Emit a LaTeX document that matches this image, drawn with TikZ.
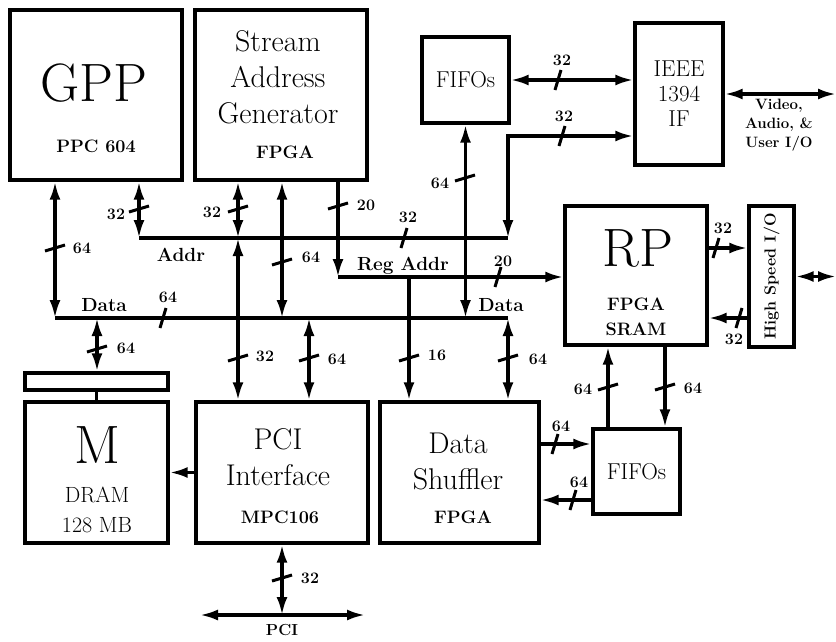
\documentclass[tikz,border=0pt]{standalone}
\usepackage{fontspec}
\usepackage{tikz}
\usetikzlibrary{arrows.meta}

\begin{document}
\begin{tikzpicture}[
        x=1pt, y=-1pt,
        >={Latex[length=18pt, width=11pt]},
        blk/.style={draw, line width=3.4pt, inner sep=0pt},
        bus/.style={line width=3.2pt},
        slash/.style={line width=3pt},
        big/.style={font=\fontsize{54}{54}\selectfont, inner sep=0pt},
        ttl/.style={font=\fontsize{30}{36}\selectfont, align=center, inner sep=0pt},
        sub/.style={font=\fontsize{18}{25}\selectfont\bfseries, align=center, inner sep=0pt},
        wlab/.style={font=\fontsize{16}{16}\selectfont\bfseries, inner sep=0pt},
        bname/.style={font=\fontsize{19}{19}\selectfont\bfseries, inner sep=0pt}
    ]
    \useasboundingbox (0,0) rectangle (836,641);

    % Blocks
    \node[blk, minimum width=172, minimum height=170] (gpp) at (96,95) {};
    \node[blk, minimum width=172, minimum height=170] (sag) at (281,95) {};
    \node[blk, minimum width=87, minimum height=86, font=\fontsize{23}{23}\selectfont] (fifoa) at (465.5,80) {FIFOs};
    \node[blk, minimum width=88, minimum height=142, font=\fontsize{23}{25}\selectfont, align=center] (ieee) at (679,94) {IEEE\\1394\\IF};
    \node[blk, minimum width=142, minimum height=139] (rp) at (636,275.5) {};
    \node[blk, minimum width=45, minimum height=141] (hsio) at (771.5,276.5) {};
    \node[blk, minimum width=143, minimum height=17] (mbar) at (96.5,381.5) {};
    \node[blk, minimum width=143, minimum height=141] (mem) at (96.5,472.5) {};
    \node[blk, minimum width=172, minimum height=141] (pci) at (282,472.5) {};
    \node[blk, minimum width=159, minimum height=141] (dsh) at (459.5,472.5) {};
    \node[blk, minimum width=87, minimum height=85, font=\fontsize{23}{23}\selectfont] (fifob) at (636.5,471.5) {FIFOs};

    % Block texts
    \node[big] (gppname) at (94,83) {GPP};
    \node[sub] (gpptype) at (96,146) {PPC 604};
    \node[ttl] (sagname) at (278,77) {Stream\\Address\\Generator};
    \node[sub] (sagtype) at (285,152) {FPGA};
    \node[big] (rpname) at (638,248) {RP};
    \node[sub] (rptype) at (636,317) {FPGA\\SRAM};
    \node[rotate=90, font=\fontsize{16}{16}\selectfont\bfseries, inner sep=0pt] (hsioname) at (hsio) {High Speed I/O};
    \node[big] (memname) at (97,445) {M};
    \node[font=\fontsize{22}{30}\selectfont, align=center, inner sep=0pt] (memtype) at (97,510) {DRAM\\128 MB};
    \node[ttl] (pciname) at (278,457) {PCI\\Interface};
    \node[sub] (pcitype) at (280,517) {MPC106};
    \node[ttl] (dshname) at (458,461) {Data\\Shuffler};
    \node[sub] (dshtype) at (463,517) {FPGA};
    \node[font=\fontsize{15}{19}\selectfont\bfseries, align=center, inner sep=0pt] (viotxt) at (779,125) {Video,\\Audio, \&\\User I/O};

    % Bus points
    \coordinate (abusL) at (139,238);
    \coordinate (abusR) at (508,238);
    \coordinate (aj1) at (238,238);
    \coordinate (dbusL) at (55,318);
    \coordinate (dbusR) at (508,318);
    \coordinate (dj0) at (97,318);
    \coordinate (dj1) at (282,318);
    \coordinate (dj3) at (309,318);
    \coordinate (rbusL) at (338,277);
    \coordinate (rj1) at (409,277);
    \coordinate (pbusL) at (200,615);
    \coordinate (pbusR) at (365,615);
    \coordinate (vio) at (836,94);
    \coordinate (hsout) at (836,276.5);

    % Buses
    \draw[bus] (abusL) -- (abusR);
    \draw[bus] (dbusL) -- (dbusR);
    \draw[bus, ->] (sag.south -| rbusL) -- (rbusL);
    \draw[bus, ->] (rbusL) -- (rbusL -| rp.west);
    \draw[bus, <->] (pbusL) -- (pbusR);

    % Connectors
    \draw[bus, <->] (gpp.south -| dbusL) -- (dbusL);
    \draw[bus, <->] (gpp.south -| abusL) -- (abusL);
    \draw[bus, <->] (sag.south -| aj1) -- (aj1);
    \draw[bus, <->] (aj1) -- (aj1 |- pci.north);
    \draw[bus, <->] (sag.south -| dj1) -- (dj1);
    \draw[bus, ->] (rj1) -- (rj1 |- dsh.north);
    \draw[bus, <->] (fifoa.south) -- (fifoa.south |- dbusR);
    \draw[bus, <->] (dbusR) -- (dbusR |- dsh.north);
    \draw[bus, <->] (abusR) |- ([yshift=-42pt]ieee.west);
    \draw[bus, <->] (fifoa.east) -- (fifoa.east -| ieee.west);
    \draw[bus, <->] (ieee.east) -- (vio);
    \draw[bus, <->] (dj0) -- (dj0 |- mbar.north);
    \draw[bus] (mbar.south) -- (mem.north);
    \draw[bus, <->] (dj3) -- (dj3 |- pci.north);
    \draw[bus, ->] (pci.west) -- (mem.east);
    \draw[bus, <->] (pci.south) -- (pci.south |- pbusL);
    \draw[bus, ->] ([yshift=28.5pt]dsh.east) -- ([yshift=28.5pt]dsh.east -| fifob.west);
    \draw[bus, ->] ([yshift=-27.5pt]dsh.east -| fifob.west) -- ([yshift=-27.5pt]dsh.east);
    \draw[bus, ->] ([xshift=-28.5pt]fifob.north) -- ([xshift=-28.5pt]fifob.north |- rp.south);
    \draw[bus, ->] ([xshift=28.5pt]fifob.north |- rp.south) -- ([xshift=28.5pt]fifob.north);
    \draw[bus, ->] ([yshift=27.5pt]rp.east) -- ([yshift=27.5pt]rp.east -| hsio.west);
    \draw[bus, ->] ([yshift=-42.5pt]rp.east -| hsio.west) -- ([yshift=-42.5pt]rp.east);
    \draw[bus, <->] (hsio.east) -- (hsout);

    % Bus names
    \node[bname] (addrlab) at (181,255) {Addr};
    \node[bname] (datalab) at (104,305) {Data};
    \node[bname] (reglab) at (403,266) {Reg Addr};
    \node[bname] (datalab2) at (501,305) {Data};
    \node[wlab] (pcilab) at (282,630) {PCI};

    % Width slashes
    \foreach \x/\y in {55/248, 139/209, 238/209, 238/358, 282/262, 338/206, 409/358, 465/178,
                       508/358, 97/349, 309/358, 282/578, 608/387, 665/387}
        \draw[slash] (\x,\y) +(-10,3) -- +(10,-3);
    \foreach \x/\y in {498/277, 562/136, 558/80, 555/444, 573/500, 716/248, 739/318, 163/318, 404/238}
        \draw[slash] (\x,\y) +(-3,10) -- +(3,-10);

    % Width labels
    \foreach \x/\y/\w [count=\i] in {82/248/64, 116/214/32, 212/212/32, 265/356/32, 311/257/64,
                                     366/205/20, 503/261/20, 437/355/16, 440/183/64, 538/359/64,
                                     564/116/32, 562/60/32, 126/348/64, 337/359/64, 310/578/32,
                                     561/426/64, 579/482/64, 583/389/64, 693/388/64, 723/228/32,
                                     734/339/32, 168/297/64, 408/217/32}
        \node[wlab] (bw\i) at (\x,\y) {\w};

\end{tikzpicture}
\end{document}
